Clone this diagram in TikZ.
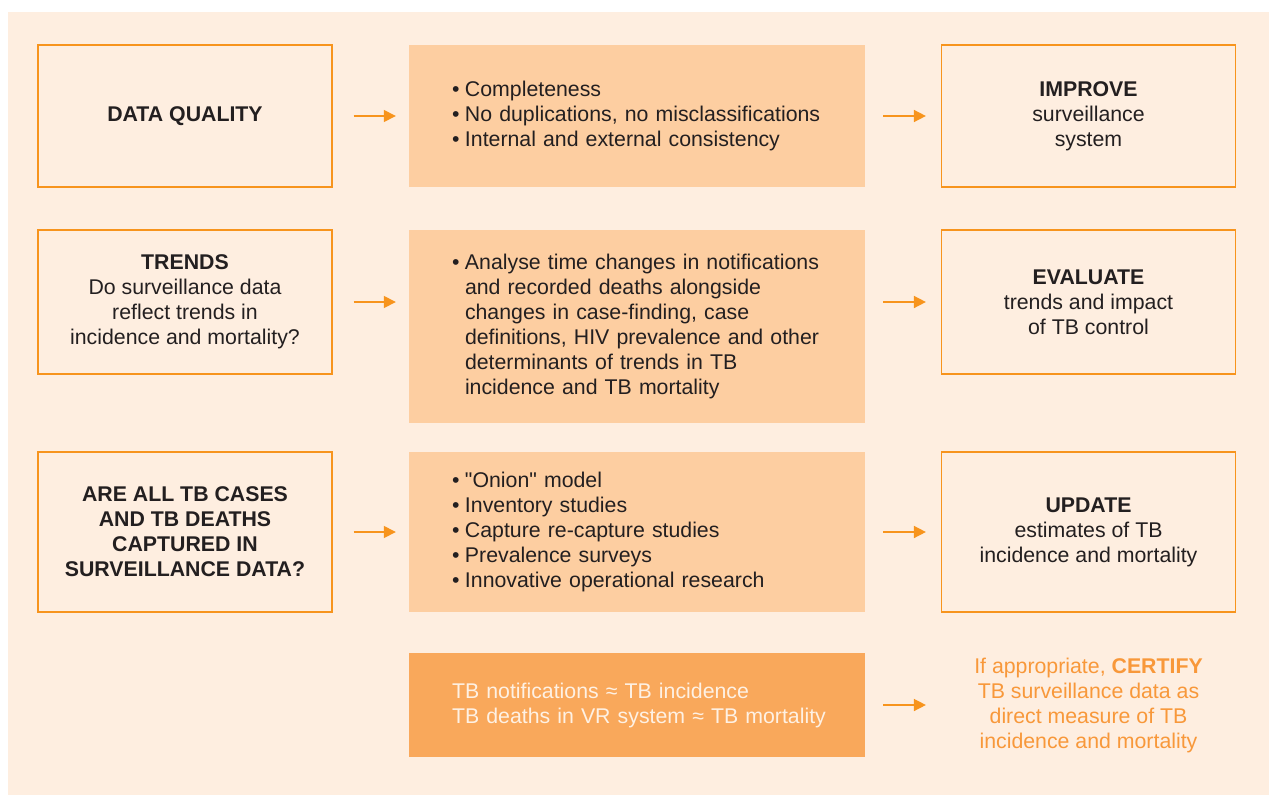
\documentclass[tikz,border=0pt]{standalone}
\usepackage{fontspec}
\setmainfont{Liberation Sans}[Ligatures=TeXOff]
\usetikzlibrary{arrows.meta}
\definecolor{bg}{HTML}{FEEEE0}
\definecolor{org}{HTML}{F7941D}
\definecolor{peach}{HTML}{FDCEA1}
\definecolor{dorg}{HTML}{F9A85B}
\definecolor{txt}{HTML}{231F20}
\definecolor{wtxt}{HTML}{FEF1E4}
\definecolor{otxt}{HTML}{F8983A}
\newcommand\bul{\makebox[13pt][l]{\textbullet}}
\newcommand\ind{\hspace*{13pt}}
\begin{document}
\begin{tikzpicture}[x=1pt,y=-1pt,
 every node/.style={font=\fontsize{21.3}{25}\selectfont, text=txt},
 sidebox/.style={draw=org, line width=1.2pt, fill=bg, minimum width=294pt, inner sep=0pt, align=center},
 midbox/.style={fill=peach, text width=370pt, inner xsep=43pt, inner ysep=0pt, align=left},
 conn/.style={draw=org, line width=1.5pt, -{Triangle[length=12pt,width=12pt]}},
]
\useasboundingbox (0,0) rectangle (1269,795);
\fill[bg] (8,12) rectangle (1269,795);

% Row 1
\node[sidebox, minimum height=142pt] (dq) at (185,116) {\textbf{DATA QUALITY}};
\node[midbox, minimum height=142pt] (m1) at (637,116) {\bul Completeness\\ \bul \mbox{No duplications, no misclassifications}\\ \bul Internal and external consistency};
\node[sidebox, minimum height=142pt] (r1) at (1088.5,116) {\textbf{IMPROVE}\\surveillance\\system};

% Row 2
\node[sidebox, minimum height=144pt] (tr) at (185,302) {\textbf{TRENDS}\\Do surveillance data\\reflect trends in\\incidence and mortality?};
\node[midbox, minimum height=193pt] (m2) at (637,326.5) {\bul \mbox{Analyse time changes in notifications}\\ \ind and recorded deaths alongside\\ \ind changes in case-finding, case\\ \ind \mbox{definitions, HIV prevalence and other}\\ \ind determinants of trends in TB\\ \ind incidence and TB mortality};
\node[sidebox, minimum height=144pt] (r2) at (1088.5,302) {\textbf{EVALUATE}\\trends and impact\\of TB control};

% Row 3
\node[sidebox, minimum height=160pt] (cap) at (185,532) {\textbf{ARE ALL TB CASES}\\\textbf{AND TB DEATHS}\\\textbf{CAPTURED IN}\\\textbf{SURVEILLANCE DATA?}};
\node[midbox, minimum height=160pt] (m3) at (637,532) {\bul "Onion" model\\ \bul Inventory studies\\ \bul Capture re-capture studies\\ \bul Prevalence surveys\\ \bul Innovative operational research};
\node[sidebox, minimum height=160pt] (r3) at (1088.5,532) {\textbf{UPDATE}\\estimates of TB\\incidence and mortality};

% Row 4
\node[midbox, fill=dorg, text=wtxt, minimum height=104pt] (m4) at (637,705) {\mbox{TB notifications ≈ TB incidence}\\\mbox{TB deaths in VR system ≈ TB mortality}};
\node[text=otxt, align=center, inner sep=0pt] (cert) at (1088.5,705) {If appropriate, \textbf{CERTIFY}\\TB surveillance data as\\direct measure of TB\\incidence and mortality};

% Connectors
\draw[conn, shorten <=21pt, shorten >=13pt] (dq.east) -- (dq.east -| m1.west);
\draw[conn, shorten <=18pt, shorten >=15pt] (r1.west -| m1.east) -- (r1.west);
\draw[conn, shorten <=21pt, shorten >=13pt] (tr.east) -- (tr.east -| m2.west);
\draw[conn, shorten <=18pt, shorten >=15pt] (r2.west -| m2.east) -- (r2.west);
\draw[conn, shorten <=21pt, shorten >=13pt] (cap.east) -- (cap.east -| m3.west);
\draw[conn, shorten <=18pt, shorten >=15pt] (r3.west -| m3.east) -- (r3.west);
\draw[conn, shorten <=18pt, shorten >=15pt] (m4.east) -- (m4.east -| r3.west);
\end{tikzpicture}
\end{document}
